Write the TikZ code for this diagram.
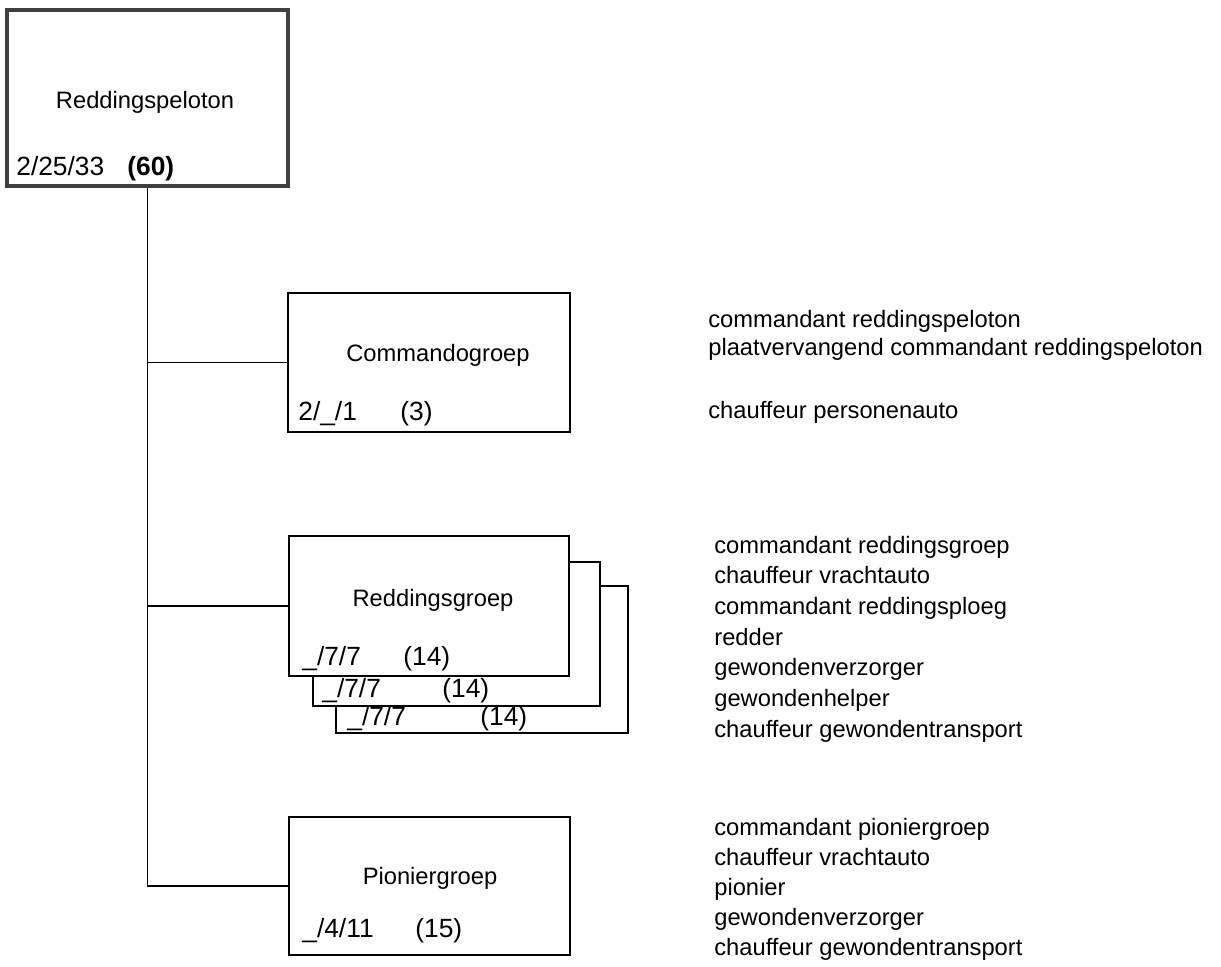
\documentclass[tikz,border=0pt]{standalone}
\usepackage{fontspec}
\setmainfont{Liberation Sans}
\usetikzlibrary{positioning}

\begin{document}
\begin{tikzpicture}[x=0.02cm,y=-0.02cm,
    box/.style={draw,line width=1pt,fill=white,inner sep=0pt},
    ttl/.style={inner sep=0pt,font=\fontsize{13.5}{16}\selectfont},
    num/.style={inner sep=0pt,anchor=base west,font=\fontsize{15}{18}\selectfont},
    lbl/.style={inner sep=0pt,anchor=base west,font=\fontsize{13.5}{16}\selectfont}]
       \useasboundingbox (0,0) rectangle (1221,967);
       % boxes (back to front)
       \node[box,draw=black!75,line width=2pt,minimum width=5.62cm,minimum height=3.52cm] (peloton) at (147.5,98) {};
       \node[box,minimum width=5.64cm,minimum height=2.78cm] (cmd) at (429,362.5) {};
       \node[box,minimum width=5.84cm,minimum height=2.94cm] (redC) at (482,659.5) {};
       \node[box,minimum width=5.74cm,minimum height=2.88cm] (redB) at (456.5,634) {};
       \node[box,minimum width=5.6cm,minimum height=2.8cm] (redA) at (429,606) {};
       \node[box,minimum width=5.62cm,minimum height=2.76cm] (pion) at (429.5,886) {};
       % connectors
       \draw[line width=0.6pt] (peloton.south) |- (pion.west);
       \draw[line width=0.6pt] (peloton.south |- cmd.west) -- (cmd.west);
       \draw[line width=0.6pt] (peloton.south |- redA.west) -- (redA.west);
       % titles
       \node[ttl] (pelotonT) at (145,102) {Reddingspeloton};
       \node[ttl] (cmdT) at (438,355) {Commandogroep};
       \node[ttl] (redT) at (433,600) {Reddingsgroep};
       \node[ttl] (pionT) at (430,878) {Pioniergroep};
       % strengths
       \node[num] (pelotonN) at (16,175) {2/25/33};
       \node[num] (pelotonS) at (127,175) {\textbf{(60)}};
       \node[num] (cmdN) at (298,420) {2/\_/1};
       \node[num] (cmdS) at (400,420) {(3)};
       \node[num] (redAN) at (302,665) {\_/7/7};
       \node[num] (redAS) at (403,665) {(14)};
       \node[num] (redBN) at (322,697) {\_/7/7};
       \node[num] (redBS) at (442,697) {(14)};
       \node[num] (redCN) at (347,725) {\_/7/7};
       \node[num] (redCS) at (480,725) {(14)};
       \node[num] (pionN) at (302,937) {\_/4/11};
       \node[num] (pionS) at (415,937) {(15)};
       % functions
       \node[lbl] (f1) at (708,327) {commandant reddingspeloton};
       \node[lbl] (f2) at (708,355) {plaatvervangend commandant reddingspeloton};
       \node[lbl] (f3) at (708,418) {chauffeur personenauto};
       \node[lbl] (f4) at (714,553) {commandant reddingsgroep};
       \node[lbl] (f5) at (714,583.7) {chauffeur vrachtauto};
       \node[lbl] (f6) at (714,614.3) {commandant reddingsploeg};
       \node[lbl] (f7) at (714,645) {redder};
       \node[lbl] (f8) at (714,675.7) {gewondenverzorger};
       \node[lbl] (f9) at (714,706.3) {gewondenhelper};
       \node[lbl] (f10) at (714,737) {chauffeur gewondentransport};
       \node[lbl] (f11) at (714,835) {commandant pioniergroep};
       \node[lbl] (f12) at (714,865) {chauffeur vrachtauto};
       \node[lbl] (f13) at (714,895) {pionier};
       \node[lbl] (f14) at (714,925) {gewondenverzorger};
       \node[lbl] (f15) at (714,955) {chauffeur gewondentransport};
     \end{tikzpicture}
\end{document}
